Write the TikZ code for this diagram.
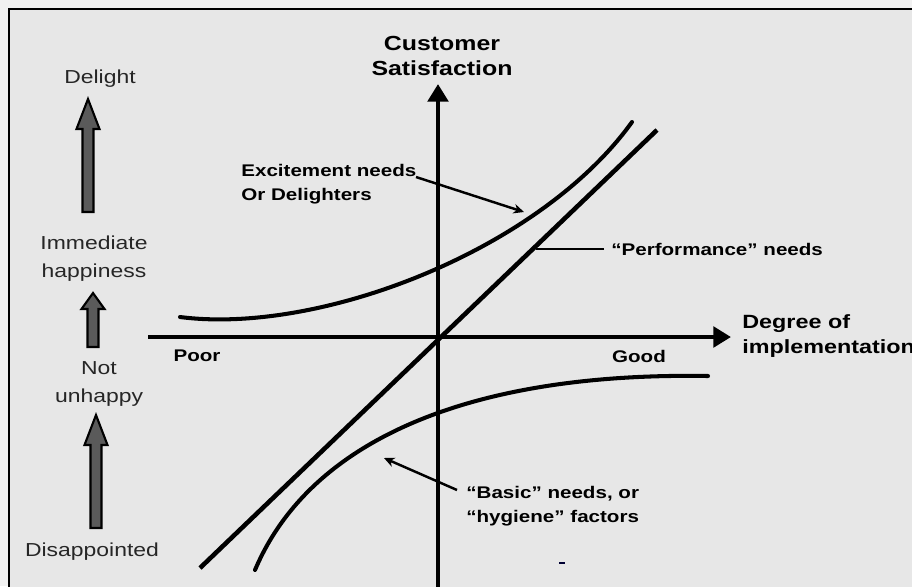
\documentclass[tikz,border=0pt]{standalone}
\usepackage{fontspec}
\setmainfont{Liberation Sans}[FakeStretch=1.22]
\usetikzlibrary{arrows.meta,calc,positioning}
\definecolor{paper}{HTML}{F1F1F1}
\definecolor{panel}{HTML}{E7E7E7}
\definecolor{arrowgray}{HTML}{5A5A5A}
\tikzset{
  lbl/.style = {font=\fontsize{10.7}{16}\selectfont, text=black!85, align=center, inner sep=0pt},
  bl/.style = {font=\fontsize{9.6}{13.8}\selectfont\bfseries, align=left, inner sep=0pt},
  axlbl/.style = {font=\fontsize{11.6}{14.6}\selectfont\bfseries, align=center, inner sep=0pt},
  axis/.style = {line width=2.5pt, -{Triangle[length=10pt,width=11.5pt]}},
  curve/.style = {line width=2.3pt, line cap=round},
  pointer/.style = {line width=1.4pt, -{Stealth[length=6pt,width=5.5pt]}}
}
\begin{document}
\begin{tikzpicture}[x=0.02cm,y=-0.02cm]
  % block arrows on the left: \blk{x}[head length]{bottom}{tip}
  \def\blk#1[#2]#3#4{%
    \pgfmathsetmacro{\hb}{#4+#2}
    \draw[fill=arrowgray, line width=1.2pt, line join=miter]
      (#1-5.5,#3) -- (#1-5.5,\hb) -- (#1-11.5,\hb) -- (#1,#4)
      -- (#1+11.5,\hb) -- (#1+5.5,\hb) -- (#1+5.5,#3) -- cycle;
  }
  \useasboundingbox (0,0) rectangle (912,586);
  \fill[paper] (0,0) rectangle (912,586);
  \draw[fill=panel, line width=1.1pt] (9,9) rectangle (930,610);

  % left scale
  \node[lbl] (delight) at (100,79) {Delight};
  \node[lbl] (immed) at (94,259) {Immediate\\happiness};
  \node[lbl] (notun) at (99,384) {Not\\unhappy};
  \node[lbl] (disap) at (92,552) {Disappointed};
  \blk{88}[30]{212}{99}
  \blk{93}[16]{347}{293}
  \blk{96}[30]{528}{415}

  % axes
  \coordinate (O) at (438,337);
  \coordinate (ybot) at (438,590);
  \coordinate (ytop) at (438,84);
  \coordinate (xleft) at (148,337);
  \coordinate (xright) at (731,337);
  \draw[axis] (ybot) -- (ytop);
  \draw[axis] (xleft) -- (xright);
  \node[axlbl] (ysat) at (442,56) {Customer\\Satisfaction};
  \node[axlbl, font=\fontsize{10.9}{14}\selectfont\bfseries, anchor=west, align=left] (xdeg) at (742,336) {Degree of\\implementation};
  \node[bl] (poor) at (197,356) {Poor};
  \node[bl] (good) at (639,356) {Good};

  % the three kinds of needs
  \coordinate (pa) at (200,568);
  \coordinate (pb) at (657,130);
  \draw[line width=2.6pt] (pa) -- (pb);
  \draw[curve] (180,317) .. controls (320,335) and (540,250) .. (632,122);
  \draw[curve] (255,570) .. controls (310,440) and (470,372) .. (708,376);

  % labels and pointers
  \node[bl, anchor=west] (exclbl) at (241,184) {Excitement needs\\Or Delighters};
  \node[bl, anchor=west] (perflbl) at (611,249) {“Performance” needs};
  \node[bl, anchor=west] (basiclbl) at (466,506) {“Basic” needs, or\\“hygiene” factors};
  \coordinate (excfrom) at (416,177);
  \coordinate (excto) at (524,212);
  \coordinate (perffrom) at (604,249);
  \coordinate (perfto) at (536,249);
  \coordinate (basicfrom) at (457,490);
  \coordinate (basicto) at (384,458);
  \draw[pointer] (excfrom) -- (excto);
  \draw[line width=1.6pt] (perffrom) -- (perfto);
  \draw[pointer] (basicfrom) -- (basicto);

  \draw[line width=1.2pt, black!80!blue] (559,563) -- (565,563);
\end{tikzpicture}
\end{document}
